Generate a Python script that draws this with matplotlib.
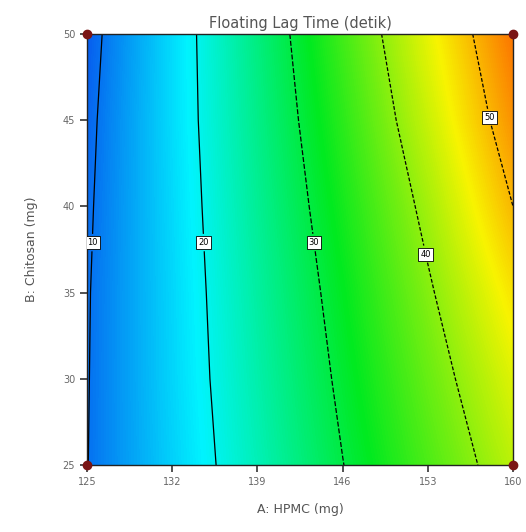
import numpy as np
import matplotlib
matplotlib.use("Agg")
import matplotlib.pyplot as plt
from matplotlib.colors import LinearSegmentedColormap

# factor levels (tick positions)
hpmc = [125, 132, 139, 146, 153, 160]
chitosan = [25, 30, 35, 40, 45, 50]

# response at the tick grid (rows = chitosan, cols = hpmc)
lag_time = [
    [9.9, 16.6, 23.2, 29.9, 36.3, 42.6],
    [9.8, 16.9, 23.9, 30.9, 37.8, 44.6],
    [9.7, 17.0, 24.5, 31.9, 39.4, 47.1],
    [9.4, 17.2, 25.2, 33.1, 41.2, 50.0],
    [9.0, 17.4, 25.9, 34.4, 43.3, 52.5],
    [8.4, 17.4, 26.5, 35.7, 45.1, 54.4],
]
levels = [10, 20, 30, 40, 50]
label_pos = [(125.4, 37.9), (134.5, 37.9), (143.6, 37.9), (152.6, 37.2), (158.3, 45.2)]

# design points
pts_x = [125, 125, 160, 160]
pts_y = [25, 50, 25, 50]

A, B = np.meshgrid(hpmc, chitosan)
Z = np.array(lag_time)

# blue -> cyan -> green -> yellow -> red, anchored on response values
vmin, vmax = 4, 60
anchors = [(4, '#0a1ee8'), (19, '#00f4ff'), (32, '#00ea20'), (46, '#f8f400'), (60, '#ff2000')]
cmap = LinearSegmentedColormap.from_list(
    'de', [((v - vmin) / (vmax - vmin), c) for v, c in anchors])

fig = plt.figure(figsize=(5.26, 5.32), dpi=100)
ax = fig.add_axes([0.1654, 0.1259, 0.8099, 0.8102])

dx, dy = 3.5, 2.5
ax.imshow(Z, origin='lower', cmap=cmap, vmin=vmin, vmax=vmax, interpolation='bilinear',
          extent=(hpmc[0] - dx, hpmc[-1] + dx, chitosan[0] - dy, chitosan[-1] + dy),
          aspect='auto')
cs = ax.contour(A, B, Z, levels=levels, colors='black', linewidths=0.9,
                linestyles=['solid', 'solid', (0, (4, 1.5)), (0, (3, 1.5)), (0, (3, 1.5))])
texts = ax.clabel(cs, fmt='%d', fontsize=6, manual=label_pos, inline=True, inline_spacing=2)
for t in texts:
    t.set_rotation(0)
    t.set_bbox(dict(boxstyle='square,pad=0.25', fc='white', ec='black', lw=0.6))

ax.plot(pts_x, pts_y, 'o', color='#7a1515', markersize=6, clip_on=False, zorder=5)

ax.set_xlim(125, 160)
ax.set_ylim(25, 50)
ax.set_xticks(hpmc)
ax.set_yticks(chitosan)
ax.tick_params(direction='out', length=5, width=1.2, colors='#333333',
               labelsize=7, labelcolor='#666666')
for s in ax.spines.values():
    s.set_color('#222222')
    s.set_linewidth(1.0)

ax.set_title('Floating Lag Time (detik)', fontsize=10.5, color='#555555', pad=4)
ax.set_xlabel('A: HPMC (mg)', fontsize=9, color='#555555', labelpad=12)
ax.set_ylabel('B: Chitosan (mg)', fontsize=9, color='#555555', labelpad=18)

plt.savefig('out.png', dpi=100)
